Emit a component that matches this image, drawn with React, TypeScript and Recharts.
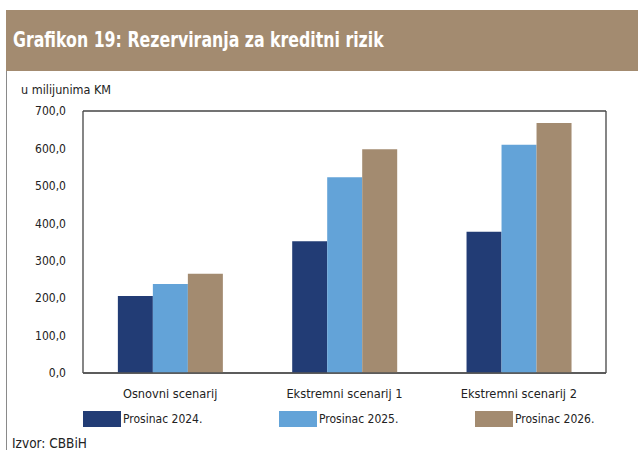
import React from 'react';
import { BarChart, Bar, XAxis, YAxis, CartesianGrid } from 'recharts';

const scenarios = ['Osnovni scenarij', 'Ekstremni scenarij 1', 'Ekstremni scenarij 2'];
const prosinac2024 = [205.5, 352, 377.5];
const prosinac2025 = [237.5, 523, 610];
const prosinac2026 = [265, 597.5, 668];
const yTicks = [0, 100, 200, 300, 400, 500, 600, 700];

const series = [
  { key: 'p2024', name: 'Prosinac 2024.', color: '#223c75', values: prosinac2024 },
  { key: 'p2025', name: 'Prosinac 2025.', color: '#63a3d8', values: prosinac2025 },
  { key: 'p2026', name: 'Prosinac 2026.', color: '#a38b70', values: prosinac2026 },
];

const data = scenarios.map((s, i) => {
  const row: Record<string, string | number> = { scenario: s };
  series.forEach((ser) => { row[ser.key] = ser.values[i]; });
  return row;
});

const FONT = "'Liberation Sans Narrow', 'DejaVu Sans Condensed', 'Roboto', sans-serif";

const fmt = (v: number) => v.toFixed(1).replace('.', ',');

export default function App() {
  return (
    <div style={{ position: 'absolute', left: 0, top: 0, width: 638, height: 450, background: '#fff', fontFamily: FONT, overflow: 'hidden' }}>
      <div style={{ position: 'absolute', left: 6, top: 10, width: 1, height: 440, background: '#8a8a8a' }} />
      <div style={{ position: 'absolute', left: 6, top: 10, width: 632, height: 61, background: '#a38b70' }} />
      <div style={{
        position: 'absolute', left: 13, top: 10, height: 61, lineHeight: '61px', whiteSpace: 'nowrap',
        color: '#fff', fontSize: 21, fontWeight: 700, transform: 'scaleX(0.835)', transformOrigin: 'left center',
      }}>
        Grafikon 19: Rezerviranja za kreditni rizik
      </div>
      <div style={{ position: 'absolute', left: 21, top: 82, fontSize: 12.5, color: '#222' }}>u milijunima KM</div>
      <div style={{ position: 'absolute', left: 0, top: 0 }}>
        <BarChart
          width={638}
          height={450}
          data={data}
          margin={{ top: 111, right: 32, bottom: 47, left: 23 }}
          barGap={0}
          barCategoryGap="20%"
        >
          <CartesianGrid
            stroke="#444"
            strokeWidth={1.3}
            horizontalCoordinatesGenerator={({ offset }: any) => [offset.top, offset.top + offset.height]}
            verticalCoordinatesGenerator={({ offset }: any) => [offset.left, offset.left + offset.width]}
          />
          <XAxis
            dataKey="scenario"
            axisLine={{ stroke: '#555', strokeWidth: 1.5 }}
            tickLine={false}
            tickMargin={10}
            height={30}
            tick={{ fontSize: 12.7, fill: '#222', fontFamily: FONT }}
          />
          <YAxis
            width={60}
            domain={[0, 700]}
            ticks={yTicks}
            axisLine={false}
            tickLine={false}
            tickMargin={11}
            tickFormatter={fmt}
            tick={{ fontSize: 12, fill: '#222', fontFamily: FONT }}
          />
          {series.map((s) => (
            <Bar key={s.key} dataKey={s.key} name={s.name} fill={s.color} isAnimationActive={false} />
          ))}
        </BarChart>
      </div>
      <div style={{ position: 'absolute', left: 83, top: 411, display: 'flex', alignItems: 'center', fontSize: 12, color: '#222' }}>
        {series.map((s) => (
          <div key={s.key} style={{ display: 'flex', alignItems: 'center', width: 196 }}>
            <span style={{ display: 'inline-block', width: 38, height: 16, background: s.color }} />
            <span style={{ marginLeft: 2 }}>{s.name}</span>
          </div>
        ))}
      </div>
      <div style={{ position: 'absolute', left: 12, top: 435, fontSize: 13.5, color: '#222' }}>Izvor: CBBiH</div>
    </div>
  );
}
